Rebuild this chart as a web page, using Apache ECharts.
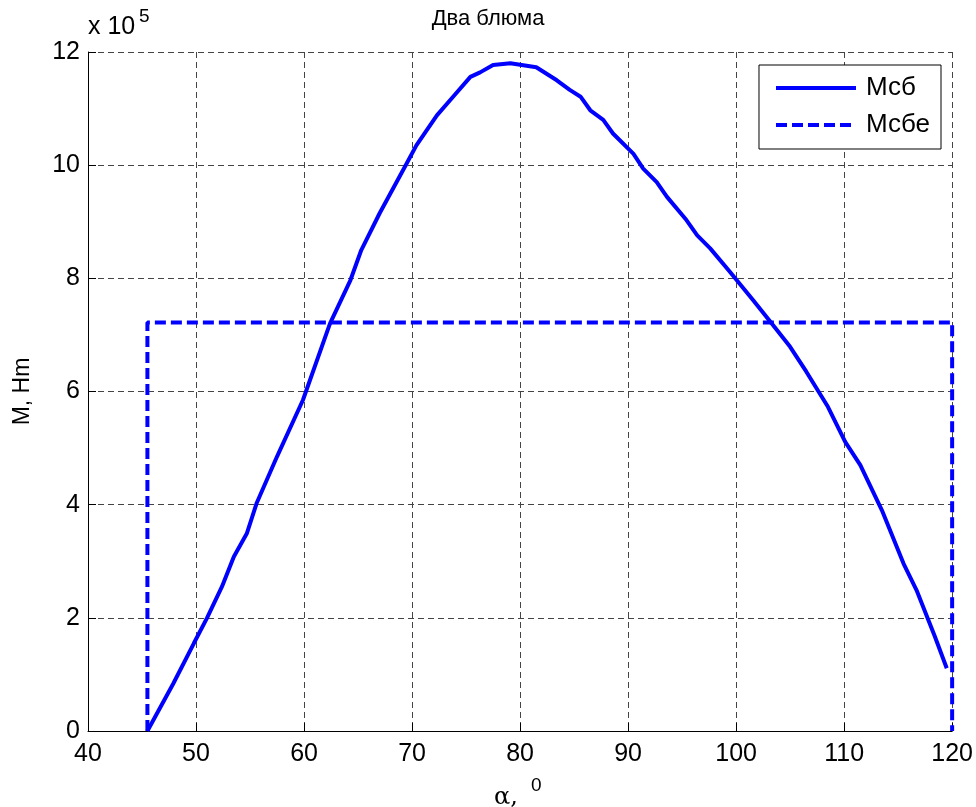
<!DOCTYPE html>
<html>
<head>
<meta charset="utf-8">
<script src="https://cdn.jsdelivr.net/npm/echarts@6/dist/echarts.min.js"></script>
<style>html,body{margin:0;padding:0;background:#fff;}#c{width:976px;height:807px;}</style>
</head>
<body>
<div id="c"></div>
<script>
// values in units of 10^5 N·m
var mcbX = [45.5, 47.9, 49.8, 51.0, 52.4, 53.5, 54.7, 55.6, 57.5, 59.9, 62.4, 64.3, 65.3, 67.0, 69.5, 70.4, 72.3, 73.8, 75.4, 76.3, 77.5, 79.1, 81.5, 83.4, 84.6, 85.6, 86.5, 87.7, 88.6, 90.5, 91.4, 92.65, 93.6, 95.4, 96.4, 97.6, 99.4, 101.6, 103.3, 105.0, 106.5, 108.5, 110.1, 111.5, 113.5, 115.5, 116.7, 118.4, 119.5];
var mcbY = [0, 0.84, 1.55, 1.99, 2.55, 3.08, 3.49, 4.02, 4.85, 5.85, 7.2, 7.97, 8.5, 9.15, 10.03, 10.35, 10.88, 11.21, 11.56, 11.64, 11.77, 11.8, 11.73, 11.5, 11.33, 11.21, 10.97, 10.8, 10.56, 10.2, 9.94, 9.7, 9.44, 9.03, 8.76, 8.53, 8.12, 7.61, 7.2, 6.79, 6.35, 5.73, 5.11, 4.7, 3.9, 2.96, 2.49, 1.67, 1.11];
var mcbeX = [45.5, 45.5, 120, 120];
var mcbeY = [0, 7.22, 7.22, 0];
var xTicks = [40, 50, 60, 70, 80, 90, 100, 110, 120];
var yTicks = [0, 2, 4, 6, 8, 10, 12];
var seriesNames = ['Мсб', 'Мсбе'];
var titleText = 'Два блюма';

function zip(a, b) { return a.map(function (v, i) { return [v, b[i]]; }); }

var FONT = 'Liberation Sans, Arial, Helvetica, sans-serif';
var chart = echarts.init(document.getElementById('c'), null, {renderer: 'canvas'});
var gridLine = {show: true, lineStyle: {color: '#444', width: 1, type: [6, 4]}};
chart.setOption({
  animation: false,
  backgroundColor: '#fff',
  title: {
    text: titleText, left: 'center', top: 3,
    textStyle: {fontFamily: FONT, fontSize: 22, fontWeight: 'normal', color: '#000'}
  },
  grid: {left: 88, right: 23, top: 52, bottom: 76, containLabel: false},
  legend: {
    orient: 'vertical', right: 35, top: 65,
    data: seriesNames,
    itemWidth: 80, itemHeight: 14, itemGap: 11,
    padding: [10, 11, 11, 15],
    itemStyle: {opacity: 0},
    lineStyle: {width: 4},
    backgroundColor: '#fff', borderColor: '#000', borderWidth: 1,
    textStyle: {fontFamily: FONT, fontSize: 26, lineHeight: 26, color: '#000', padding: [0, 0, 0, 5]}
  },
  xAxis: {
    type: 'value', min: 40, max: 120, interval: 10,
    axisLine: {show: true, onZero: false, lineStyle: {color: '#000', width: 1}},
    axisTick: {show: true, inside: true, length: 8, lineStyle: {color: '#000'}},
    axisLabel: {fontFamily: FONT, fontSize: 25, color: '#000', margin: 11,
      formatter: function (v) { return xTicks.indexOf(v) >= 0 ? String(v) : ''; }},
    splitLine: gridLine
  },
  yAxis: {
    type: 'value', min: 0, max: 12, interval: 2,
    name: 'M, Нm', nameLocation: 'middle', nameGap: 54, nameRotate: 90,
    nameTextStyle: {fontFamily: FONT, fontSize: 23, color: '#000'},
    axisLine: {show: true, onZero: false, lineStyle: {color: '#000', width: 1}},
    axisTick: {show: true, inside: true, length: 8, lineStyle: {color: '#000'}},
    axisLabel: {fontFamily: FONT, fontSize: 25, color: '#000', margin: 8,
      formatter: function (v) { return yTicks.indexOf(v) >= 0 ? String(v) : ''; }},
    splitLine: gridLine
  },
  graphic: [
    {type: 'text', left: 88, top: 15, style: {text: 'x 10', font: '25px ' + FONT, fill: '#000'}},
    {type: 'text', left: 139, top: 7, style: {text: '5', font: '19px ' + FONT, fill: '#000'}},
    {type: 'text', left: 494, top: 786, style: {text: 'α, ', font: '24px "DejaVu Serif", serif', fill: '#000'}},
    {type: 'text', left: 531, top: 776, style: {text: '0', font: '19px ' + FONT, fill: '#000'}}
  ],
  series: [
    {name: seriesNames[0], type: 'line', data: zip(mcbX, mcbY), symbol: 'none', smooth: false,
      lineStyle: {color: '#0000ff', width: 4}, itemStyle: {color: '#0000ff'}, z: 3},
    {name: seriesNames[1], type: 'line', data: zip(mcbeX, mcbeY), symbol: 'none',
      lineStyle: {color: '#0000ff', width: 4, type: [11, 5]}, itemStyle: {color: '#0000ff'}, z: 3}
  ]
});
</script>
</body>
</html>
